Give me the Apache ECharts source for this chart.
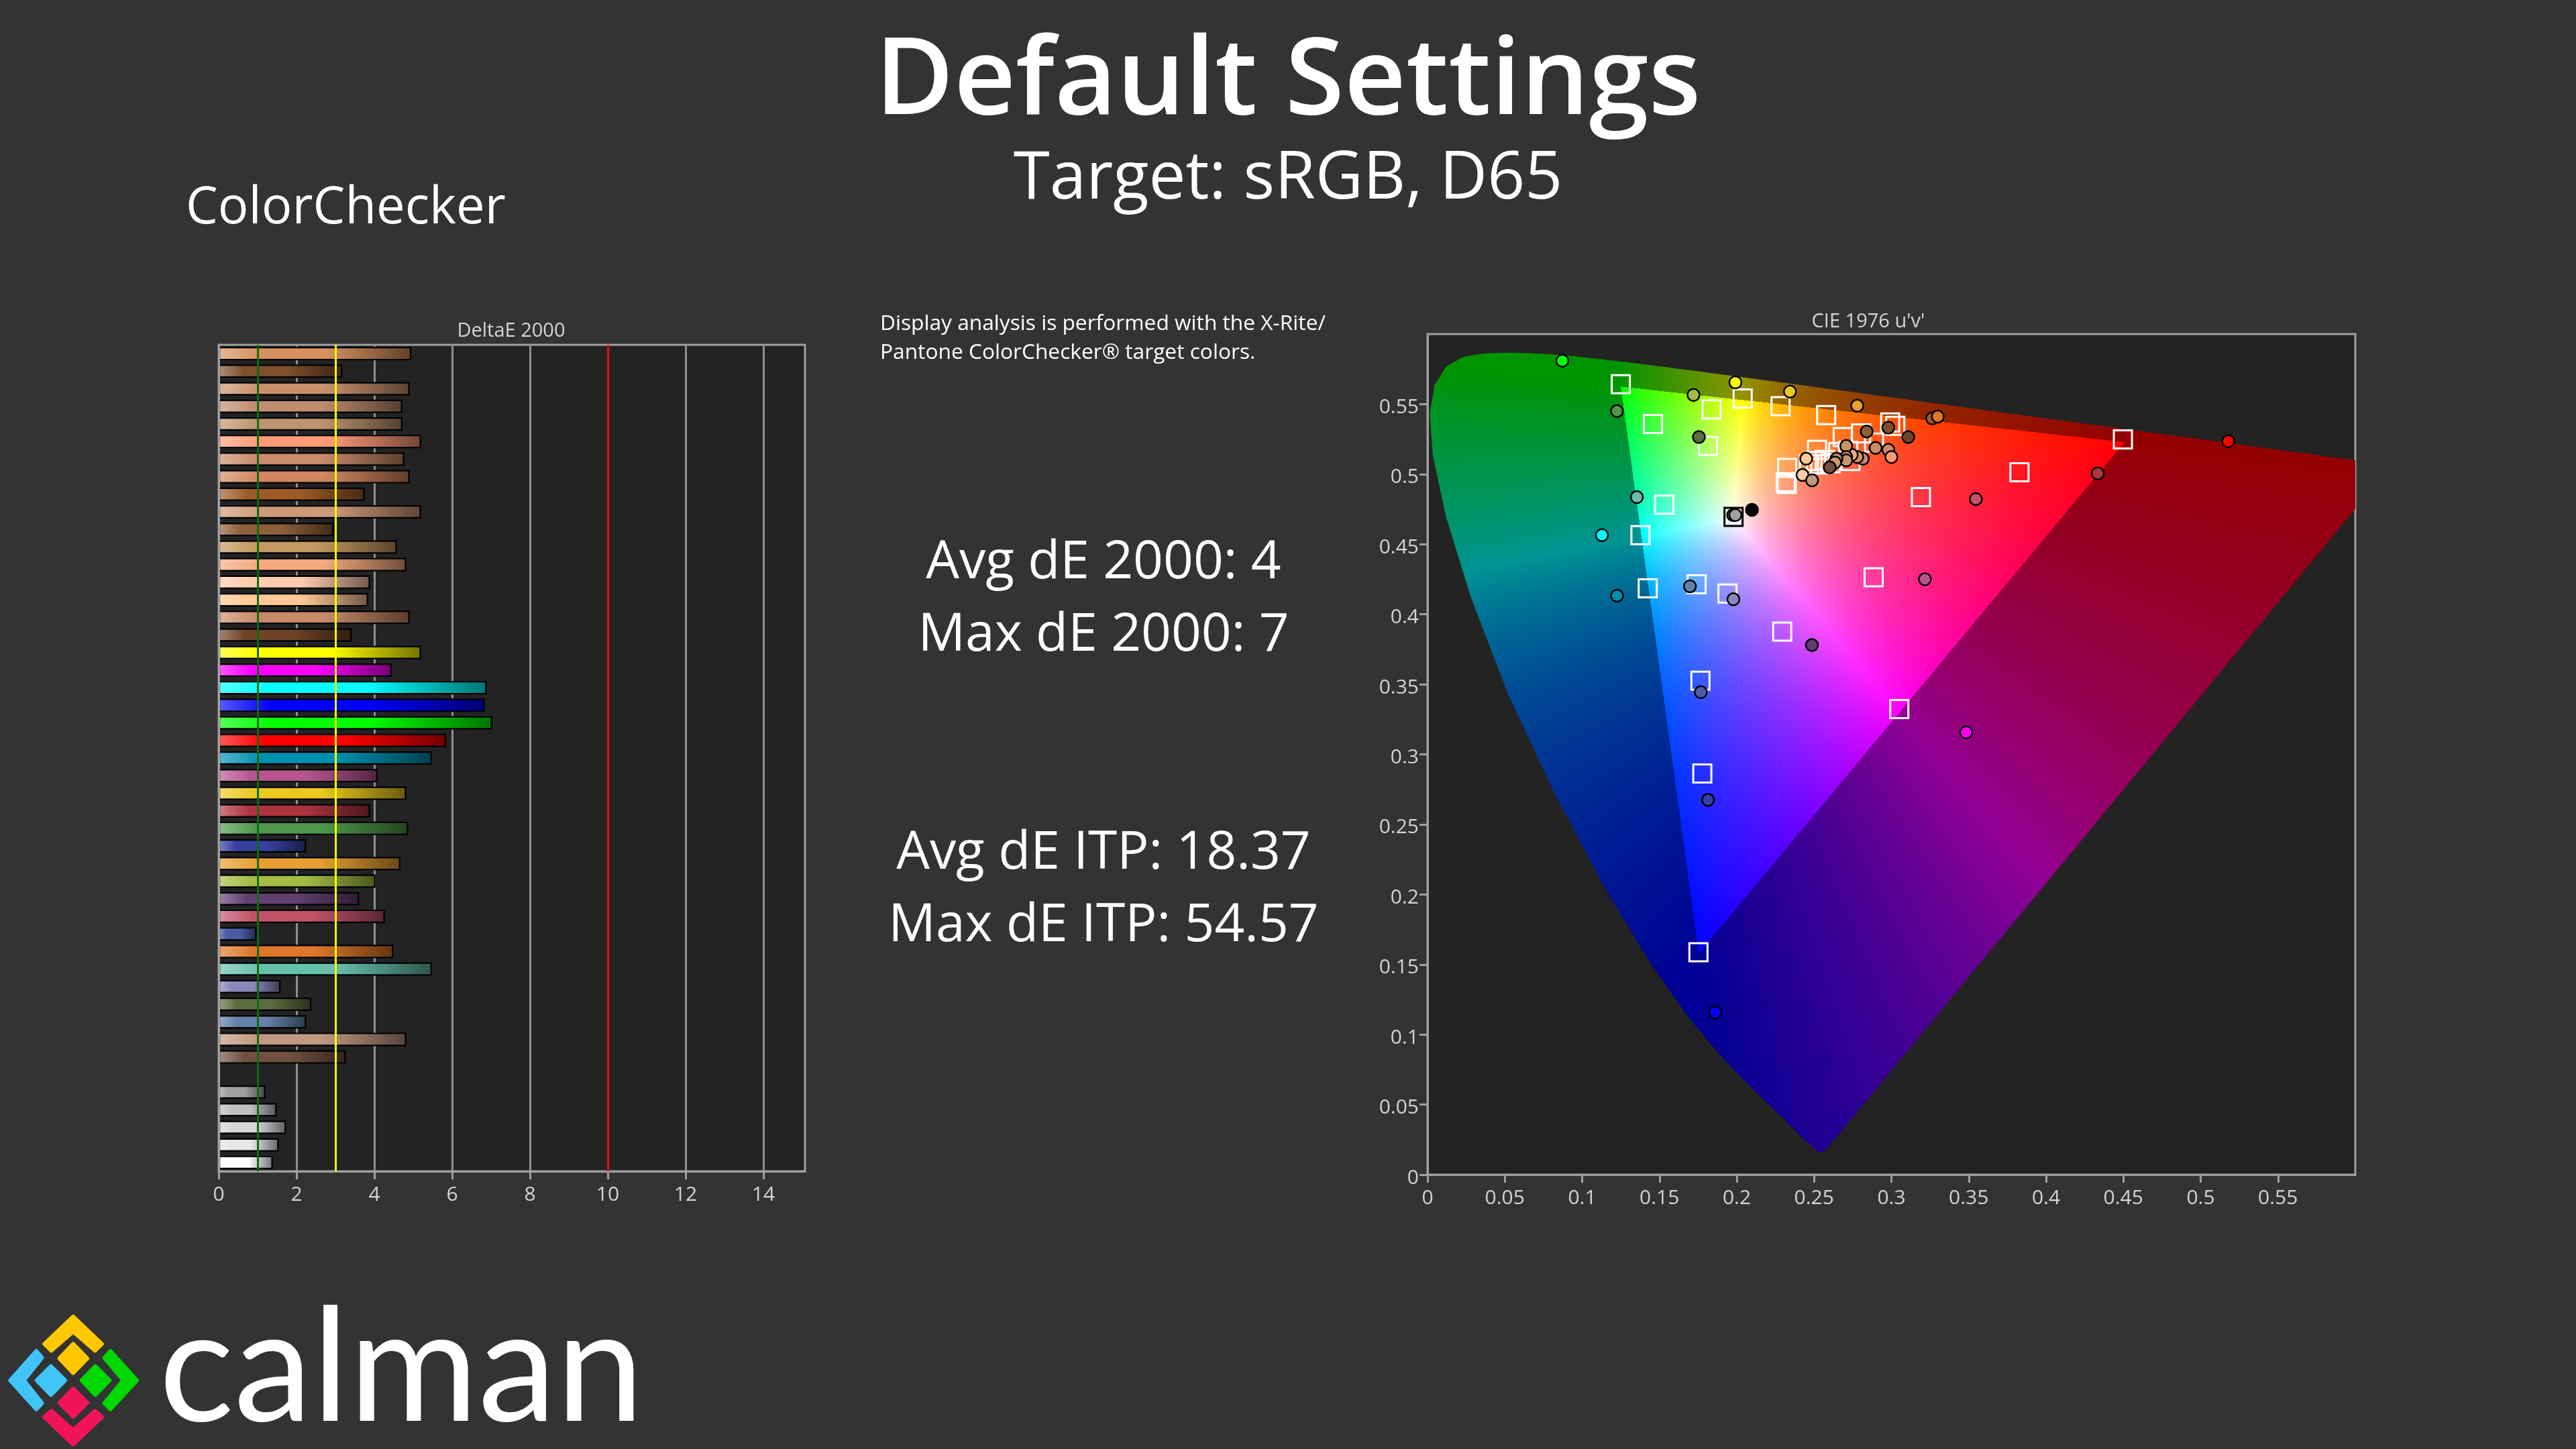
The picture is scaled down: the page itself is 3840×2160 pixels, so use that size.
<!DOCTYPE html>
<html><head><meta charset="utf-8">
<style>html,body{margin:0;padding:0;background:#333333}#c{width:3840px;height:2160px}</style>
<script src="https://cdn.jsdelivr.net/npm/echarts@6/dist/echarts.min.js"></script>
</head><body><div id="c"></div>
<script>
// ---------- DeltaE bars ----------
const barValues = [4.95,3.18,4.91,4.72,4.72,5.2,4.77,4.91,3.75,5.2,2.95,4.58,4.82,3.89,3.84,4.91,3.42,5.2,4.45,6.89,6.84,
  7.03,5.85,5.48,4.08,4.82,3.89,4.87,2.25,4.67,4.03,3.61,4.27,0.97,4.49,5.48,1.59,2.38,2.25,4.82,3.27,null,1.2,1.49,1.73,1.54,1.39];
const barColors = ['#D8925F','#7E4F2C','#C9926D','#C08D6E','#BE9570','#FF9A76','#CB8B6B','#D38760','#9E5B26','#CD9A78','#8D5E3A','#C49860','#F5AB7F','#FFCBAE','#FFC896','#C88A68','#6F4327','#FFFF00','#FF00FF','#00FFFF','#0000FF',
  '#00FF00','#FF0000','#0090B0','#B85590','#EBC81E','#AE3540','#4E9648','#3540A0','#E8A030','#A3BD44','#613F70','#C2546A','#4B5EA5','#DD772A','#66BFA8','#8888BA','#5C6E40','#6480AA','#C09880','#725040','#000000','#A0A0A0','#C0C0C0','#D6D6D6','#E6E6E6','#FFFFFF'];
const barCategories = barValues.map((_, i) => String(i + 1));
const deltaTicks = [0,2,4,6,8,10,12,14];
const thresholds = [[1,'#0E6A0E'],[3,'#FFFF00'],[10,'#E01010']];

// ---------- CIE targets (squares) ----------
const targetU = [.125,.1458,.1837,.2038,.2283,.2578,.1814,.1531,.1377,.3191,.2992,.3025,.2804,.2685,.2888,.2519,.2721,.2656,.2736,.2606,.254,.2468,.2512,.257,.2326,.2316,.2323,.3828,.4497,.2885,.1424,.174,.194,.2294,.1765,.3051,.1777,.1752];
const targetV = [.5642,.5358,.5462,.554,.5485,.5422,.5201,.4783,.4565,.4836,.5369,.5345,.5291,.5265,.5225,.5174,.5166,.5158,.5094,.5078,.507,.507,.5094,.5102,.5045,.4943,.493,.5013,.5248,.4264,.4185,.4214,.4148,.3876,.3525,.3323,.2863,.1587];
const whiteTarget = [[.1979,.4695]];

// ---------- CIE measured (circles) ----------
const measuredU = [.1991,.2344,.2779,.172,.1225,.1755,.1354,.2098,.1976,.1991,.3264,.33,.298,.284,.3109,.2898,.298,.3,.2815,.2779,.2743,.2708,.2708,.2708,.2645,.2635,.2601,.2449,.2425,.2487,.0872,.1128,.1226,.3546,.4334,.3216,.2486,.1697,.1978,.1767,.3484,.1814,.186,.5178];
const measuredV = [.5655,.5589,.5489,.5565,.545,.5265,.4836,.4745,.4708,.4708,.5398,.5411,.5332,.5305,.5265,.5187,.5174,.5123,.511,.5123,.5138,.5201,.5123,.5099,.511,.5083,.5048,.511,.4994,.4956,.581,.4565,.4133,.4822,.5005,.425,.378,.42,.4107,.3444,.3157,.2676,.1158,.5235];
const measuredColors = ['#FFFF00','#EBC81E','#E8A030','#A3BD44','#4E9648','#5C6E40','#66BFA8','#000000','#505050','#A0A0A0','#9E5B26','#DD772A','#7E4F2C','#8D5E3A','#6F4327','#C88A68','#D38760','#FF9A76','#CB8B6B','#D8925F','#F5AB7F','#C49860','#BE9570','#C9926D','#C08D6E','#CD9A78','#725040','#FFC896','#FFCBAE','#C09880','#00FF00','#00FFFF','#0090B0','#C2546A','#AE3540','#B85590','#613F70','#6480AA','#8888BA','#4B5EA5','#FF00FF','#3540A0','#0000FF','#FF0000'];
const uvTicks = [0,.05,.1,.15,.2,.25,.3,.35,.4,.45,.5,.55];

// ---------- spectral locus (CIE 1931 xy, 380..650 nm by 5, then 700) ----------
const locusX = [.1741,.1740,.1738,.1736,.1733,.1730,.1726,.1721,.1714,.1703,.1689,.1669,.1644,.1611,.1566,.1510,.1440,.1355,.1241,.1096,.0913,.0687,.0454,.0235,.0082,.0039,.0139,.0389,.0743,.1142,.1547,.1929,.2296,.2658,.3016,.3373,.3731,.4087,.4441,.4788,.5125,.5448,.5752,.6029,.6270,.6482,.6658,.6801,.6915,.7006,.7079,.7140,.7190,.7230,.7260,.7347];
const locusY = [.0050,.0050,.0049,.0049,.0048,.0048,.0048,.0048,.0051,.0058,.0069,.0086,.0109,.0138,.0177,.0227,.0297,.0399,.0578,.0868,.1327,.2007,.2950,.4127,.5384,.6548,.7502,.8120,.8338,.8262,.8059,.7816,.7543,.7243,.6923,.6589,.6245,.5896,.5547,.5202,.4866,.4544,.4242,.3965,.3725,.3514,.3340,.3197,.3083,.2993,.2920,.2859,.2809,.2770,.2740,.2653];
const uvMax = 0.6;

// text
const mainTitle = 'Default Settings', subTitle = 'Target: sRGB, D65', sectionTitle = 'ColorChecker';
const noteLines = ['Display analysis is performed with the X-Rite/','Pantone ColorChecker® target colors.'];
const stats = ['Avg dE 2000: 4','Max dE 2000: 7','Avg dE ITP: 18.37','Max dE ITP: 54.57'];

function hexRgb(h){return [parseInt(h.slice(1,3),16),parseInt(h.slice(3,5),16),parseInt(h.slice(5,7),16)];}
function mix(h,t,a){const c=hexRgb(h);return 'rgb('+c.map(v=>Math.round(v+(t-v)*a)).join(',')+')';}
function barGradient(h){return {type:'linear',x:0,y:0,x2:1,y2:0,colorStops:[
  {offset:0,color:mix(h,255,.35)},{offset:.2,color:h},{offset:.55,color:h},{offset:1,color:mix(h,0,.55)}]};}

const GAMMA = 0.85, DIM = 0.58;
function fieldCanvas(api,cs){
  const w=Math.round(cs.width),h=Math.round(cs.height);
  const off=document.createElement('canvas');off.width=w;off.height=h;
  const oc=off.getContext('2d'),img=oc.createImageData(w,h),d=img.data;
  for(let j=0;j<h;j++){const v=uvMax*(1-(j+.5)/h);
    for(let i=0;i<w;i++){const u=uvMax*(i+.5)/w;
      const den=6*u-16*v+12,x=9*u/den,y=4*v/den,z=1-x-y;
      let r=3.2406*x-1.5372*y-.4986*z,g=-.9689*x+1.8758*y+.0415*z,b=.0557*x-.204*y+1.057*z;
      const out=Math.min(r,g,b)<0;
      r=Math.max(r,0);g=Math.max(g,0);b=Math.max(b,0);
      const m=Math.max(r,g,b)||1,k=out?DIM:1,o=(j*w+i)*4;
      d[o]=255*k*Math.pow(r/m,GAMMA);d[o+1]=255*k*Math.pow(g/m,GAMMA);d[o+2]=255*k*Math.pow(b/m,GAMMA);d[o+3]=255;
    }}
  oc.putImageData(img,0,0);
  const cv=document.createElement('canvas');cv.width=w;cv.height=h;
  const c=cv.getContext('2d');c.beginPath();
  locusX.forEach((lx,i)=>{const ly=locusY[i],den=-2*lx+12*ly+3,p=api.coord([4*lx/den,9*ly/den]);
    const px=p[0]-cs.x,py=p[1]-cs.y;i?c.lineTo(px,py):c.moveTo(px,py);});
  c.closePath();c.clip();c.drawImage(off,0,0);
  return cv;
}

const TXT='"Open Sans"';
function txt(text,x,y,size,weight,align,fill){return {type:'text',silent:true,z:50,style:{text,x,y,fill:fill||'#fff',align:align||'center',verticalAlign:'middle',textAlign:align||'center',textVerticalAlign:'middle',font:(weight||400)+' '+size+'px '+TXT}};}
function poly(zpts,fill){ // logo shapes, in page pixels
  return {type:'polygon',silent:true,z:50,shape:{points:zpts.map(p=>[p[0]/1.568,1900+p[1]/3])},style:{fill,stroke:fill,lineWidth:6,lineJoin:'round'}};}
const logoY='#FFC800',logoB='#40C4F8',logoG='#00D800',logoR='#F0145A';

const chart=echarts.init(document.getElementById('c'),null,{renderer:'canvas',width:3840,height:2160});
const axisText={color:'#D4D4D4',fontSize:30,fontFamily:TXT};
const lineC={color:'#A0A0A0',width:3};
chart.setOption({
  animation:false,backgroundColor:'#333333',
  title:[
    {text:'DeltaE 2000',left:762,top:479,textStyle:{color:'#D4D4D4',fontSize:29,fontWeight:400,fontFamily:TXT},textAlign:'center',padding:0},
    {text:"CIE 1976 u'v'",left:2785,top:465,textStyle:{color:'#D4D4D4',fontSize:29,fontWeight:400,fontFamily:TXT},textAlign:'center',padding:0}
  ],
  grid:[
    {left:326,top:514,width:874,height:1232,show:true,backgroundColor:'#232323',borderColor:'#A0A0A0',borderWidth:3,containLabel:false},
    {left:2128,top:498,width:1383,height:1253,show:true,backgroundColor:'#232323',borderColor:'#A0A0A0',borderWidth:3,containLabel:false}
  ],
  xAxis:[
    {gridIndex:0,type:'value',min:0,max:15.07,
     axisLine:{show:true,lineStyle:lineC},axisTick:{show:true,length:12,customValues:deltaTicks,lineStyle:lineC},
     axisLabel:{...axisText,margin:20,customValues:deltaTicks},
     splitLine:{show:true,lineStyle:{color:'#8E8E8E',width:3}}},
    {gridIndex:1,type:'value',min:0,max:uvMax,
     axisLine:{show:true,lineStyle:lineC},axisTick:{show:true,length:12,customValues:uvTicks,lineStyle:lineC},
     axisLabel:{...axisText,margin:20,customValues:uvTicks,formatter:v=>String(+v.toFixed(2))},
     splitLine:{show:false}}
  ],
  yAxis:[
    {gridIndex:0,type:'category',inverse:true,data:barCategories,
     axisLine:{show:true,lineStyle:lineC},axisTick:{show:false},axisLabel:{show:false},splitLine:{show:false},z:6},
    {gridIndex:1,type:'value',min:0,max:uvMax,
     axisLine:{show:true,lineStyle:lineC},axisTick:{show:true,length:12,customValues:uvTicks,lineStyle:lineC},
     axisLabel:{...axisText,margin:13,customValues:uvTicks,formatter:v=>'{a|'+(+v.toFixed(2))+'}',
       rich:{a:{...axisText,padding:[10,0,0,0]}}},
     splitLine:{show:false}}
  ],
  series:[
    {type:'bar',xAxisIndex:0,yAxisIndex:0,barWidth:20,silent:true,
     data:barValues.map((v,i)=>({value:v,itemStyle:{color:barGradient(barColors[i]),borderColor:'#000',borderWidth:2.2}})),
     markLine:{silent:true,symbol:'none',label:{show:false},animation:false,z:6,
       data:thresholds.map(t=>({xAxis:t[0],lineStyle:{color:t[1],width:3,type:'solid'}}))}},
    {type:'custom',xAxisIndex:1,yAxisIndex:1,silent:true,z:1,data:[[0,0]],clip:true,
     renderItem(params,api){const cs=params.coordSys;
       return {type:'image',style:{image:fieldCanvas(api,cs),x:cs.x,y:cs.y,width:cs.width,height:cs.height}};}},
    {type:'scatter',xAxisIndex:1,yAxisIndex:1,silent:true,z:3,symbol:'rect',symbolSize:27,
     data:targetU.map((u,i)=>[u,targetV[i]]),itemStyle:{color:'rgba(0,0,0,0)',borderColor:'#fff',borderWidth:3,opacity:1}},
    {type:'scatter',xAxisIndex:1,yAxisIndex:1,silent:true,z:3,symbol:'rect',symbolSize:27,
     data:whiteTarget,itemStyle:{color:'rgba(255,255,255,.25)',borderColor:'#000',borderWidth:3,opacity:1}},
    {type:'scatter',xAxisIndex:1,yAxisIndex:1,silent:true,z:4,symbol:'circle',symbolSize:18,
     data:measuredU.map((u,i)=>({value:[u,measuredV[i]],itemStyle:{color:measuredColors[i]}})),
     itemStyle:{borderColor:'#000',borderWidth:2.5,opacity:1}}
  ],
  graphic:[
    txt(mainTitle,1920,124,160,600),
    txt(subTitle,1920,268,98),
    txt(sectionTitle,277,311,76,400,'left'),
    txt(noteLines[0],1312,483,31.7,400,'left'),
    txt(noteLines[1],1312,526,31.7,400,'left'),
    txt(stats[0],1645,840,78.5),txt(stats[1],1645,948,78.5),
    txt(stats[2],1645,1273,78.5),txt(stats[3],1645,1381,78.5),
    {type:'text',silent:true,z:50,style:{text:'calman',x:237,y:2160,fill:'#fff',textAlign:'left',textVerticalAlign:'bottom',align:'left',verticalAlign:'bottom',font:'400 234px Lato'}},
    poly([[171,188],[238,310],[222,340],[171,255],[120,340],[104,310]],logoY),
    poly([[171,310],[204,375],[171,440],[139,375]],logoY),
    poly([[119,410],[152,473],[119,538],[86,473]],logoB),
    poly([[223,410],[256,473],[223,538],[191,473]],logoG),
    poly([[171,510],[204,573],[171,636],[139,573]],logoR),
    poly([[85,342],[98,372],[56,473],[98,575],[85,602],[24,473]],logoB),
    poly([[258,342],[244,372],[288,473],[244,575],[258,602],[320,473]],logoG),
    poly([[120,610],[171,695],[222,610],[238,637],[171,760],[104,637]],logoR)
  ]
});
</script></body></html>
